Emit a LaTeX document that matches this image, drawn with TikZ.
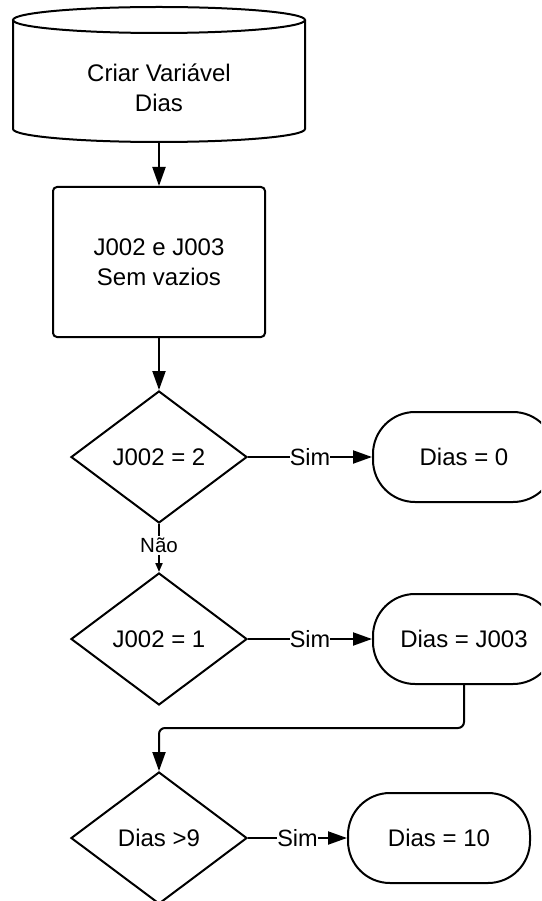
\documentclass[tikz,border=0pt]{standalone}
\usepackage{fontspec}
\setmainfont{Liberation Sans}
\usetikzlibrary{shapes.geometric,arrows.meta}

\tikzset{
  base/.style={draw, line width=2pt, font=\fontsize{24}{30}\selectfont, align=center},
  procbox/.style={base, rectangle, rounded corners=4pt, minimum width=212pt, minimum height=150pt},
  decision/.style={base, diamond, minimum width=176pt, minimum height=132pt, inner sep=0pt},
  terminal/.style={base, rectangle, rounded corners=42pt, minimum width=182pt, minimum height=90pt},
  flow/.style={line width=2pt, -{Triangle[length=19pt,width=13pt]}},
  smallflow/.style={line width=2pt, -{Triangle[length=9pt,width=7pt]}},
  simlbl/.style={fill=white, inner sep=0pt, font=\fontsize{23.5}{26}\selectfont},
  naolbl/.style={fill=white, inner sep=2pt, font=\fontsize{20.5}{24}\selectfont},
}

\begin{document}
\begin{tikzpicture}[x=1pt,y=1pt]
  \useasboundingbox (0,0) rectangle (541,-901);
  \clip (0,0) rectangle (541,-901);
  \fill[white] (0,0) rectangle (541,-901);

  % storage cylinder
  \draw[line width=2pt] (159,-20) ellipse [x radius=146, y radius=13];
  \draw[line width=2pt] (13,-20) -- (13,-129)
        arc[start angle=180, end angle=360, x radius=146, y radius=13] -- (305,-20);
  \node[font=\fontsize{24}{30}\selectfont, align=center] (start) at (159,-88) {Criar Variável\\Dias};
  \coordinate (startbot) at (159,-142);

  % process and decisions
  \node[procbox] (proc) at (159,-262) {J002 e J003\\Sem vazios};
  \node[decision] (d1) at (159,-457) {J002 = 2};
  \node[terminal] (t1) at (464,-457) {Dias = 0};
  \node[decision] (d2) at (159,-639) {J002 = 1};
  \node[terminal] (t2) at (464,-639) {Dias = J003};
  \node[decision] (d3) at (159,-838) {Dias >9};
  \node[terminal] (t3) at (439,-838) {Dias = 10};
  \coordinate (bend) at (159,-728);

  % connectors
  \draw[flow] (startbot) -- (proc.north);
  \draw[flow] (proc.south) -- (d1.north);
  \draw[flow] (d1.east) -- node[simlbl] {Sim} (t1.west);
  \draw[smallflow] (d1.south) -- node[naolbl, pos=0.45] {Não} (d2.north);
  \draw[flow] (d2.east) -- node[simlbl] {Sim} (t2.west);
  \draw[flow, rounded corners=6pt] (t2.south) |- (bend) -- (d3.north);
  \draw[flow] (d3.east) -- node[simlbl] {Sim} (t3.west);
\end{tikzpicture}
\end{document}
